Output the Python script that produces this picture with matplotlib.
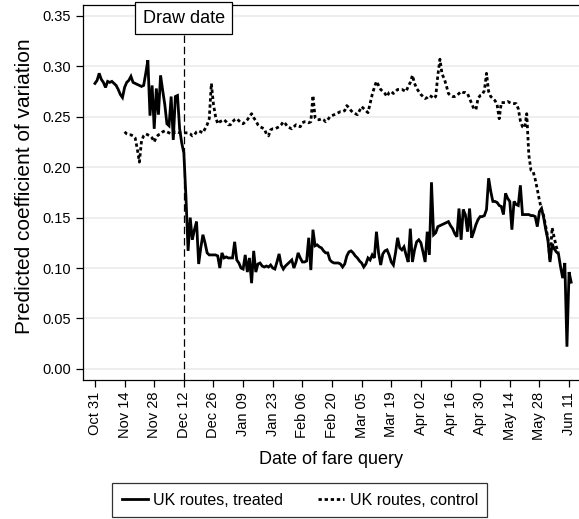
import numpy as np
import pandas as pd
import matplotlib
matplotlib.use('Agg')
import matplotlib.pyplot as plt
import matplotlib.dates as mdates

plt.rcParams['font.family'] = ['Liberation Sans', 'DejaVu Sans']

# dates
treated_start = '2019-10-31'
control_start = '2019-11-14'
draw_date = '2019-12-12'
tick_start = '2019-10-31'
n_ticks = 17

# predicted coefficient of variation, one value per query day
treated_cv = [
    0.283, 0.286, 0.293, 0.287, 0.284, 0.279, 0.285, 0.284, 0.285, 0.283,
    0.281, 0.277, 0.272, 0.269, 0.279, 0.284, 0.286, 0.290, 0.284, 0.283,
    0.282, 0.281, 0.280, 0.281, 0.293, 0.306, 0.251, 0.281, 0.238, 0.278,
    0.252, 0.291, 0.276, 0.262, 0.243, 0.241, 0.270, 0.227, 0.270, 0.271,
    0.238, 0.224, 0.214, 0.170, 0.117,
    0.150, 0.128, 0.138, 0.146, 0.104, 0.120, 0.133, 0.125, 0.115, 0.113,
    0.113, 0.113, 0.113, 0.112, 0.100, 0.115, 0.110, 0.111, 0.110, 0.110,
    0.110, 0.126, 0.108, 0.105, 0.100, 0.099, 0.113, 0.096, 0.110, 0.085,
    0.117, 0.096, 0.104, 0.105, 0.102, 0.101, 0.102, 0.101, 0.103, 0.100,
    0.099, 0.106, 0.114, 0.103, 0.099, 0.102, 0.104, 0.106, 0.108, 0.100,
    0.106, 0.115, 0.110,
    0.106, 0.106, 0.107, 0.130, 0.098, 0.138, 0.122, 0.123, 0.121, 0.120,
    0.117, 0.115, 0.115, 0.108, 0.106, 0.105, 0.105, 0.105, 0.104, 0.101,
    0.104, 0.112, 0.116, 0.117, 0.115, 0.112, 0.110, 0.107, 0.105, 0.101,
    0.104, 0.110, 0.108, 0.113, 0.110, 0.136, 0.115, 0.103, 0.114, 0.117,
    0.118, 0.113, 0.106, 0.103, 0.115, 0.130, 0.120, 0.118, 0.121, 0.113,
    0.106, 0.139, 0.106, 0.118, 0.126,
    0.128, 0.125, 0.116, 0.106, 0.136, 0.113, 0.185, 0.133, 0.135, 0.141,
    0.142, 0.143, 0.144, 0.145, 0.146, 0.142, 0.139, 0.134, 0.131, 0.159,
    0.128, 0.158, 0.153, 0.136, 0.159, 0.130, 0.136, 0.143, 0.148, 0.151,
    0.151, 0.152, 0.158, 0.189, 0.176, 0.166, 0.166, 0.165, 0.162, 0.161,
    0.153, 0.174, 0.169, 0.166, 0.138, 0.166, 0.163, 0.162, 0.182, 0.153,
    0.153, 0.153, 0.153, 0.152, 0.152, 0.151, 0.141, 0.156, 0.159, 0.150,
    0.138, 0.128, 0.106, 0.124, 0.119, 0.116, 0.114, 0.101, 0.090, 0.105,
    0.022, 0.096, 0.086,
]

control_cv = [
    0.235, 0.233, 0.232, 0.232, 0.231, 0.229, 0.218, 0.205, 0.226, 0.231,
    0.233, 0.232, 0.231, 0.229, 0.225, 0.230, 0.232, 0.233, 0.235, 0.236,
    0.235, 0.234, 0.233, 0.233, 0.235, 0.235, 0.234, 0.234, 0.234, 0.234,
    0.234, 0.233, 0.231, 0.232, 0.235, 0.236, 0.235, 0.234, 0.238, 0.242,
    0.248, 0.283, 0.262, 0.250, 0.243, 0.245, 0.246, 0.247, 0.245, 0.242,
    0.242, 0.245, 0.247, 0.248, 0.246, 0.244, 0.243, 0.245, 0.247, 0.250,
    0.253, 0.249, 0.246, 0.242, 0.240, 0.239, 0.238, 0.233, 0.231, 0.237,
    0.238, 0.238, 0.239, 0.240, 0.242, 0.245, 0.243, 0.240, 0.239, 0.238,
    0.240, 0.242, 0.241, 0.240,
    0.244, 0.245, 0.245, 0.244, 0.245, 0.271, 0.249, 0.247, 0.247, 0.248,
    0.247, 0.245, 0.247, 0.250, 0.251, 0.252, 0.253, 0.254, 0.255, 0.255,
    0.256, 0.261, 0.259, 0.256, 0.254, 0.253, 0.252, 0.256, 0.260, 0.258,
    0.256, 0.254, 0.263, 0.272, 0.279, 0.285, 0.281, 0.277, 0.275, 0.273,
    0.270, 0.274, 0.275, 0.273, 0.275, 0.277, 0.277, 0.277, 0.276, 0.275,
    0.280, 0.284, 0.291, 0.283, 0.278, 0.275,
    0.272, 0.270, 0.268, 0.269, 0.271, 0.270, 0.268, 0.270, 0.291, 0.307,
    0.292, 0.288, 0.281, 0.273, 0.271, 0.270, 0.270, 0.271, 0.273, 0.275,
    0.274, 0.274, 0.273, 0.268, 0.263, 0.258, 0.257, 0.268, 0.271, 0.272,
    0.276, 0.293, 0.275, 0.270, 0.268, 0.266, 0.262, 0.248, 0.264, 0.264,
    0.264, 0.265, 0.264, 0.263, 0.263, 0.263, 0.258, 0.246, 0.240, 0.239,
    0.253, 0.212, 0.197, 0.196, 0.188, 0.178, 0.167, 0.158, 0.152, 0.141,
    0.130, 0.108, 0.140, 0.130, 0.121, 0.115,
]

treated_dates = pd.date_range(treated_start, periods=len(treated_cv), freq='D')
control_dates = pd.date_range(control_start, periods=len(control_cv), freq='D')
tick_dates = pd.date_range(tick_start, periods=n_ticks, freq='14D')

fig = plt.figure(figsize=(5.79, 5.19), dpi=100)
ax = fig.add_axes([0.1428, 0.2678, 0.8572, 0.7231])

ax.plot(treated_dates, treated_cv, color='black', lw=2.0, solid_joinstyle='miter',
        label='UK routes, treated')
ax.plot(control_dates, control_cv, color='black', lw=2.0, linestyle=(0, (1.2, 1.0)),
        label='UK routes, control')

d = pd.Timestamp(draw_date)
ax.axvline(d, color='black', lw=0.9, linestyle=(0, (6, 3)), zorder=1)
ax.annotate('Draw date', xy=(d, 0.9646), xycoords=('data', 'axes fraction'),
            ha='center', va='center', fontsize=13, annotation_clip=False, zorder=5,
            bbox=dict(boxstyle='square,pad=0.42', fc='white', ec='black', lw=0.9))

ax.set_ylim(-0.011, 0.361)
ax.set_yticks(np.arange(0, 0.351, 0.05))
ax.yaxis.set_major_formatter(plt.FormatStrFormatter('%.2f'))
ax.yaxis.grid(True, color='#e9e9e9', lw=1.1)
ax.set_axisbelow(True)

ax.set_xlim(tick_dates[0] - pd.Timedelta(days=5.8), tick_dates[-1] + pd.Timedelta(days=4.7))
ax.set_xticks(tick_dates)
ax.xaxis.set_major_formatter(mdates.DateFormatter('%b %d'))
plt.setp(ax.get_xticklabels(), rotation=90)

ax.tick_params(length=5, width=0.9, labelsize=10.5, color='black')
for s in ['left', 'bottom', 'top']:
    ax.spines[s].set_linewidth(0.9)
ax.spines['right'].set_visible(False)

ax.set_xlabel('Date of fare query', fontsize=13, labelpad=8)
ax.set_ylabel('Predicted coefficient of variation', fontsize=15)
ax.yaxis.set_label_coords(-0.098, 0.517)

leg = fig.legend(loc='center', bbox_to_anchor=(0.518, 0.0366), ncol=2, fontsize=11.5,
                 frameon=True, fancybox=False, edgecolor='black', handlelength=1.6,
                 handletextpad=0.35, columnspacing=2.2, borderpad=0.6)
leg.get_frame().set_linewidth(0.9)

fig.savefig('out.png', dpi=100)
